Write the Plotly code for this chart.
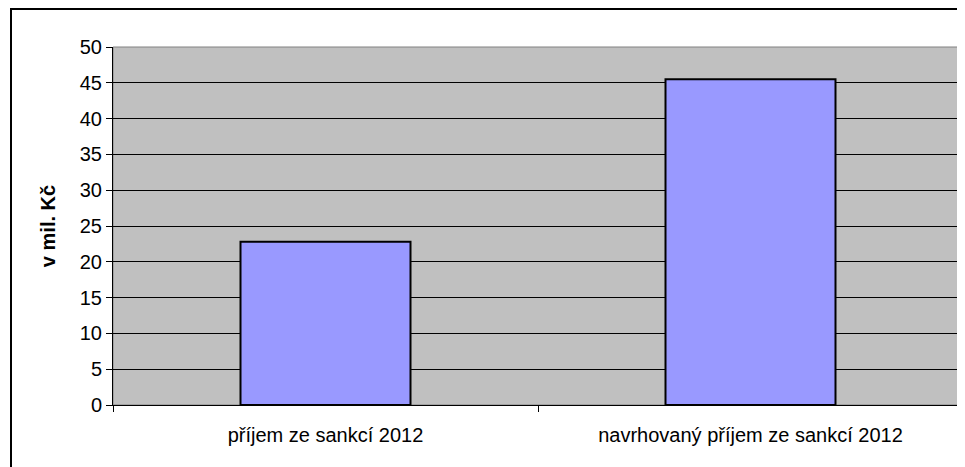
import plotly.graph_objects as go

categories = ["příjem ze sankcí 2012", "navrhovaný příjem ze sankcí 2012"]
values = [22.8, 45.5]
y_title = "v mil. Kč"
y_ticks = [0, 5, 10, 15, 20, 25, 30, 35, 40, 45, 50]

# page body has an 8px margin, so the figure is offset by 8px
OFF = 8
W, H = 965 - OFF, 467 - OFF
L, R, T, B = 113 - OFF, 2, 47 - OFF, 62
pw, ph = W - L - R, H - T - B

fig = go.Figure(
    go.Bar(
        x=categories,
        y=values,
        marker=dict(color="#9999FF", line=dict(color="black", width=2)),
    )
)

fig.update_layout(
    width=W,
    height=H,
    margin=dict(l=L, r=R, t=T, b=B),
    paper_bgcolor="white",
    plot_bgcolor="#C0C0C0",
    bargap=0.6,
    showlegend=False,
    font=dict(family="Arial, Liberation Sans, sans-serif", size=20, color="black"),
)

fig.update_yaxes(
    range=[0, 50],
    tickvals=y_ticks,
    showgrid=True,
    gridcolor="black",
    gridwidth=1,
    showline=True,
    linecolor="black",
    linewidth=1,
    ticks="outside",
    ticklen=6,
    tickcolor="black",
    zeroline=False,
    title=dict(text="<b>" + y_title + "</b>", font=dict(size=20), standoff=18),
)

fig.update_xaxes(
    showline=True,
    linecolor="black",
    linewidth=1,
    ticks="outside",
    ticklen=6,
    tickcolor="black",
    tickson="boundaries",
    ticklabelstandoff=12,
)

# plot-area border (gray) and outer chart border (black)
fig.add_shape(type="rect", xref="paper", yref="paper", x0=0, x1=1, y0=0, y1=1,
              line=dict(color="#808080", width=1), layer="below")
fig.add_shape(type="rect", xref="paper", yref="paper",
              x0=(3 - L) / pw, x1=(W + 3 - L) / pw,
              y0=-(H + 3 - (T + ph)) / ph, y1=1 + (T - 1) / ph,
              line=dict(color="black", width=2))

fig.write_html("out.html")
